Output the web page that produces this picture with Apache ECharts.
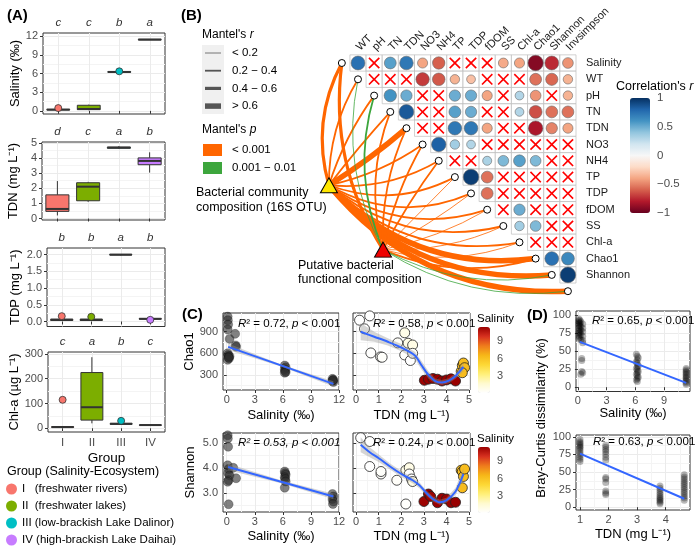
<!DOCTYPE html>
<html><head><meta charset="utf-8">
<script src="https://cdn.jsdelivr.net/npm/echarts@6/dist/echarts.min.js"></script>
<style>html,body{margin:0;padding:0;background:#fff}#c{width:700px;height:549px}</style>
</head><body><div id="c"></div>
<script>
const FONT = 'Liberation Sans, Arial, Helvetica, sans-serif';
// ================= Panel A data =================
const groups = ['I','II','III','IV'];
const groupLabels = ['I   (freshwater rivers)','II  (freshwater lakes)','III (low-brackish Lake Dalinor)','IV (high-brackish Lake Daihai)'];
const groupColors = ['#F8766D','#7CAE00','#00BFC4','#C77CFF'];
// [min, Q1, median, Q3, max]
const salinityBox = [[0.1,0.15,0.2,0.25,0.3],[0.1,0.2,0.3,0.9,1.0],[6.15,6.2,6.25,6.3,6.35],[11.4,11.42,11.45,11.48,11.5]];
const salinityOut = [[0.45],[],[6.35],[]];
const salinityLetters = ['c','c','b','a'];
const tdnBox = [[0.2,0.47,0.63,1.56,2.47],[1.1,1.17,2.1,2.36,2.42],[4.6,4.64,4.68,4.71,4.78],[3.03,3.55,3.8,4.0,4.37]];
const tdnOut = [[],[],[],[]];
const tdnLetters = ['d','c','a','b'];
const tdpBox = [[0.02,0.03,0.05,0.07,0.1],[0.02,0.03,0.05,0.07,0.1],[1.98,1.99,2.0,2.01,2.02],[0.06,0.07,0.08,0.09,0.1]];
const tdpOut = [[0.16],[0.14],[],[0.05]];
const tdpLetters = ['b','b','a','b'];
const chlBox = [[1,3,5,7,9],[20,33,85,225,287],[15,16,18,20,21],[11,12,13,14,15]];
const chlOut = [[115],[],[30],[]];
const chlLetters = ['c','a','b','c'];

// ================= Panel B data =================
const corrCols = ['WT','pH','TN','TDN','NO3','NH4','TP','TDP','fDOM','SS','Chl-a','Chao1','Shannon','Invsimpson'];
const corrRows = ['Salinity','WT','pH','TN','TDN','NO3','NH4','TP','TDP','fDOM','SS','Chl-a','Chao1','Shannon'];
// row i holds columns i..13 ; null = not significant (cross)
const corrValues = [
  [0.75, null, 0.55, 0.72, -0.4, -0.6, null, null, null, -0.38, -0.4, -0.92, -0.75, -0.45],
  [null, null, null, -0.7, -0.62, -0.35, -0.3, null, null, null, -0.55, -0.58, -0.35],
  [0.6, 0.5, null, null, 0.5, 0.5, -0.4, null, 0.3, -0.45, null, -0.35],
  [0.85, null, null, 0.55, 0.5, null, null, 0.3, -0.65, -0.55, -0.55],
  [null, null, 0.72, 0.72, -0.4, null, null, -0.82, -0.5, -0.4],
  [0.82, 0.35, 0.3, null, null, null, null, null, null],
  [null, null, 0.32, 0.45, 0.55, 0.45, null, null],
  [0.95, -0.55, null, null, null, null, null],
  [-0.55, null, null, null, null, null],
  [null, 0.5, null, null, null],
  [0.35, 0.45, null, null],
  [null, null, null],
  [0.75, 0.65],
  [0.95]
];
const mantelVars = ['Salinity','WT','pH','TN','TDN','NO3','NH4','TP','TDP','fDOM','SS','Chl-a','Chao1','Shannon','Invsimpson'];
const mantel16S_r = [0.5,0.25,0.3,0.3,0.7,0.3,0.25,0.3,0.3,0.3,0.3,0.3,0.65,0.65,0.65];
const mantel16S_p = ['<0.001','<0.001','<0.001','<0.001','<0.001','<0.001','<0.001','<0.001','<0.001','<0.001','<0.001','<0.001','<0.001','<0.001','<0.001'];
const mantelFun_r = [0.5,0.1,0.25,0.3,0.3,0.3,0.25,0.15,0.15,0.15,0.15,0.15,0.3,0.1,0.1];
const mantelFun_p = ['<0.001','0.001-0.01','0.001-0.01','<0.001','<0.001','<0.001','<0.001','<0.001','<0.001','<0.001','<0.001','<0.001','<0.001','0.001-0.01','0.001-0.01'];

// ================= Panel C data =================
const chaoSal = [[0.1,1110],[0.12,1060],[0.15,1000],[0.1,930],[0.3,800],[0.9,870],[0.95,710],[1.0,690],[0.1,600],[0.15,575],[0.2,555],[0.25,530],[0.1,510],[0.3,560],[0.2,540],
  [6.2,430],[6.3,405],[6.2,380],[6.25,355],[6.3,340],[6.2,330],
  [11.3,245],[11.4,230],[11.3,215],[11.4,200],[11.35,225]];
const chaoSalFitX = [0.15,5.8,11.4], chaoSalFitY = [690,432,175], chaoSalLo = [645,418,140], chaoSalHi = [735,446,210];
// [TDN, Chao1, Salinity]
const chaoTdn = [[0.15,1060,0.1],[0.6,1120,0.1],[0.37,940,0.15],[0.65,605,0.15],[1.08,550,0.2],[1.15,545,0.25],[1.84,745,0.3],[2.15,885,0.9],[2.3,740,0.95],[2.5,715,1.0],[2.15,577,0.2],[2.4,500,0.1],[2.5,600,0.3],
  [3.02,225,11.3],[3.2,240,11.4],[3.4,250,11.3],[3.6,240,11.4],[3.8,215,11.35],[4.0,230,11.4],[4.2,245,11.3],[4.4,215,11.4],
  [4.65,350,6.2],[4.7,430,6.3],[4.75,465,6.2],[4.8,400,6.25],[4.7,330,6.3]];
const chaoTdnFitX = [0.2,0.8,1.4,2.0,2.6,2.9,3.2,3.5,3.8,4.1,4.4,4.75];
const chaoTdnFitY = [900,830,760,680,570,430,300,215,195,220,285,410];
const chaoTdnLo = [780,760,710,630,520,370,250,180,160,185,245,350];
const chaoTdnHi = [1020,900,810,730,620,490,350,250,230,255,325,470];
const shSal = [[0.1,5.3],[0.12,5.17],[0.15,4.84],[0.1,4.1],[0.2,3.95],[0.15,3.78],[0.3,3.7],[0.2,3.5],[0.1,3.44],[0.2,2.54],[0.7,4.0],[1.0,3.58],
  [6.2,3.85],[6.25,3.78],[6.3,3.72],[6.2,3.62],[6.25,3.55],[6.3,3.45],[6.2,3.2],
  [11.3,2.95],[11.4,2.85],[11.3,2.75],[11.4,2.65],[11.35,2.55]];
const shSalFitX = [0.15,5.8,11.4], shSalFitY = [4.03,3.44,2.85], shSalLo = [3.9,3.38,2.74], shSalHi = [4.16,3.5,2.96];
const shTdn = [[0.2,5.2,0.1],[0.6,5.05,0.15],[0.6,4.05,0.1],[1.1,3.75,0.2],[1.1,3.85,0.25],[1.8,3.5,0.3],[2.2,2.55,0.2],[2.2,3.9,0.9],[2.35,4.0,0.95],[2.35,3.75,0.2],[2.45,3.55,0.1],[2.5,3.45,1.0],
  [3.0,2.65,11.3],[3.2,2.95,11.4],[3.3,2.85,11.3],[3.6,2.6,11.4],[3.8,2.78,11.35],[4.0,2.75,11.4],[4.2,2.6,11.3],[4.4,2.62,11.4],
  [4.65,3.9,6.2],[4.7,3.85,6.3],[4.75,3.65,6.2],[4.8,3.95,6.25],[4.7,3.2,6.3]];
const shTdnFitX = [0.2,0.6,1.0,1.5,2.0,2.5,2.8,3.1,3.4,3.7,4.0,4.4,4.75];
const shTdnFitY = [4.92,4.62,4.38,4.05,3.75,3.5,3.3,3.0,2.75,2.62,2.7,3.05,3.75];
const shTdnLo = [4.62,4.42,4.23,3.93,3.63,3.38,3.18,2.9,2.65,2.52,2.6,2.9,3.5];
const shTdnHi = [5.22,4.82,4.53,4.17,3.87,3.62,3.42,3.1,2.85,2.72,2.8,3.2,4.0];

// ================= Panel D data =================
const braySal = [[0.1,95],[0.1,92],[0.1,90],[0.1,88],[0.1,85],[0.1,82],[0.1,78],[0.1,75],[0.1,72],[0.1,68],[0.2,93],[0.2,89],[0.2,86],[0.2,80],[0.2,76],[0.2,70],[0.3,91],[0.3,84],[0.3,79],[0.3,73],[0.3,66],[0.5,88],[0.5,82],[0.5,77],[0.5,71],[0.5,65],[0.5,62],
  [0.4,40],[0.4,37],[0.4,22],[0.5,20],[0.3,18],
  [6.1,46],[6.2,43],[6.3,41],[6.2,38],[6.1,35],[6.2,33],[6.3,30],[6.2,28],[6.1,26],[6.2,24],[6.3,22],[6.2,20],[6.1,18],[6.2,16],[6.3,14],[6.2,12],[6.1,10],[6.2,8],
  [11.3,26],[11.3,24],[11.3,22],[11.3,20],[11.3,18],[11.3,16],[11.3,14],[11.3,12],[11.3,10],[11.3,8],[11.3,6],[11.3,4]];
const braySalFitX = [0.2,11.3], braySalFitY = [63,6];
const brayTdn = [[1.0,96],[1.0,93],[1.0,91],[1.0,89],[1.0,87],[1.0,85],[1.0,83],[1.0,80],[1.0,77],[1.0,74],[1.0,71],[1.0,68],[1.0,65],
  [1.9,88],[1.9,85],[1.9,82],[1.9,79],[1.9,75],[1.9,71],[1.9,67],[1.9,42],[1.9,40],[1.9,35],[1.9,23],[1.9,20],[1.9,18],
  [3.8,30],[3.8,27],[3.8,24],[3.8,21],[3.8,18],[3.8,15],[3.8,13],[3.8,11],[3.8,9],[3.8,7],[3.8,5],
  [4.65,46],[4.65,43],[4.65,40],[4.65,37],[4.65,34],[4.65,31],[4.65,28],[4.65,25],[4.65,22],[4.65,19],[4.65,16],[4.65,13],[4.65,10]];
const brayTdnFitX = [1.0,4.65], brayTdnFitY = [76,12];

// ================= helpers =================
const axisTextColor = '#4d4d4d';
const grids = [], xAxes = [], yAxes = [], series = [];
function addGrid(r, show = true) {
  grids.push(Object.assign({show: show, borderColor:'#333', borderWidth:1, backgroundColor:'#fff', containLabel:false}, r));
  return grids.length - 1;
}
function minorsOf(ticks, min, max) {
  const step = ticks[1] - ticks[0];
  const out = [];
  for (let v = ticks[0] - step / 2; v <= max; v += step) if (v >= min) out.push(+v.toFixed(6));
  return out;
}
function minorAxis(g, min, max, ticks, pos) {
  const m = minorsOf(ticks, min, max);
  return {type:'value', gridIndex:g, min:min, max:max, position:pos, z:0,
    axisLine:{show:false}, axisTick:{show:false, customValues:m}, axisLabel:{show:false, customValues:m},
    splitLine:{show:true, lineStyle:{color:'#f4f4f4', width:1}}};
}
function valAxis(g, min, max, ticks, o = {}) {
  return {
    type:'value', gridIndex:g, min:min, max:max,
    axisLine:{show:false},
    axisTick:{show:o.ticks !== false, length:3, lineStyle:{color:'#333'}, customValues:ticks},
    axisLabel:{show:o.labels !== false, customValues:ticks, color:axisTextColor, fontSize:11, fontFamily:FONT,
      margin:(o.margin == null ? 5 : o.margin), formatter:o.fmt || (v => String(v))},
    splitLine:{show:true, lineStyle:{color:'#ebebeb', width:1}},
    name:o.name || '', nameLocation:'middle', nameGap:o.gap || 20, nameRotate:o.rot,
    nameTextStyle:{fontSize:13, color:'#000', fontFamily:FONT}
  };
}
function boxRender(params, api) {
  const x = api.value(0);
  const c = i => api.coord([x, api.value(i)]);
  const pMin = c(1), pQ1 = c(2), pMed = c(3), pQ3 = c(4), pMax = c(5);
  const bw = api.size([1, 0])[0] * 0.75;
  const cx = pMed[0];
  return {type:'group', children:[
    {type:'line', shape:{x1:cx, y1:pMax[1], x2:cx, y2:pQ3[1]}, style:{stroke:'#333', lineWidth:1}},
    {type:'line', shape:{x1:cx, y1:pQ1[1], x2:cx, y2:pMin[1]}, style:{stroke:'#333', lineWidth:1}},
    {type:'rect', shape:{x:cx - bw/2, y:pQ3[1], width:bw, height:Math.max(pQ1[1] - pQ3[1], 0.6)}, style:{fill:groupColors[x], stroke:'#333', lineWidth:1}},
    {type:'line', shape:{x1:cx - bw/2, y1:pMed[1], x2:cx + bw/2, y2:pMed[1]}, style:{stroke:'#333', lineWidth:2}}
  ]};
}
const zip = (xs, ys) => xs.map((x, i) => [x, ys[i]]);

// ================= Panel A =================
const panelsA = [
  {title:'Salinity (‰)', box:salinityBox, out:salinityOut, letters:salinityLetters, min:-0.5, max:12.5, ticks:[0,3,6,9,12], gap:21},
  {title:'TDN (mg L⁻¹)', box:tdnBox, out:tdnOut, letters:tdnLetters, min:-0.1, max:5.05, ticks:[0,1,2,3,4,5], gap:22},
  {title:'TDP (mg L⁻¹)', box:tdpBox, out:tdpOut, letters:tdpLetters, min:-0.15, max:2.2, ticks:[0,0.5,1,1.5,2], gap:25, fmt:v => v.toFixed(1)},
  {title:'Chl-a (µg L⁻¹)', box:chlBox, out:chlOut, letters:chlLetters, min:-15, max:308, ticks:[0,100,200,300], gap:26}
];
const rectsA = [
  {left:43, top:33, width:122, height:81},
  {left:42, top:142, width:123, height:78},
  {left:47, top:248, width:118, height:78.5},
  {left:48, top:352, width:117, height:80}
];
panelsA.forEach((p, k) => {
  const g = addGrid(rectsA[k]);
  const xi = xAxes.length;
  xAxes.push({type:'category', gridIndex:g, data:groups, position:'bottom', boundaryGap:true,
    axisLine:{show:false}, axisTick:{show:true, alignWithLabel:true, length:3, lineStyle:{color:'#333'}},
    axisLabel:{show:k === 3, color:axisTextColor, fontSize:11.5, margin:5},
    splitLine:{show:true, alignWithLabel:true, lineStyle:{color:'#ebebeb'}},
    name:k === 3 ? 'Group' : '', nameLocation:'middle', nameGap:19, nameTextStyle:{fontSize:13.5, color:'#000'}});
  xAxes.push({type:'category', gridIndex:g, data:groups, position:'top',
    axisLine:{show:false}, axisTick:{show:false}, splitLine:{show:false},
    axisLabel:{fontStyle:'italic', color:'#333', fontSize:11.5, margin:4, formatter:(v, idx) => p.letters[idx]}});
  const yi = yAxes.length;
  yAxes.push(valAxis(g, p.min, p.max, p.ticks, {fmt:p.fmt, name:p.title, gap:p.gap, rot:90}));
  yAxes.push(minorAxis(g, p.min, p.max, p.ticks, 'right'));
  series.push({type:'custom', xAxisIndex:xi, yAxisIndex:yi, renderItem:boxRender, encode:{x:0, y:[1,2,3,4,5]},
    data:p.box.map((b, i) => [i].concat(b)), z:3, silent:true});
  groups.forEach((gn, i) => {
    series.push({type:'scatter', name:groupLabels[i], xAxisIndex:xi, yAxisIndex:yi, symbolSize:7,
      itemStyle:{color:groupColors[i], borderColor:'#333', borderWidth:0.8, opacity:1},
      data:p.out[i].map(v => [i, v]), z:4});
  });
});

// ================= Panel B =================
const gB = addGrid({left:293.4, top:54.85, width:282.6, height:252.65}, false);
const xB = xAxes.length;
xAxes.push({type:'value', gridIndex:gB, min:-4, max:13.5, position:'top',
  axisLine:{show:false}, axisTick:{show:false}, splitLine:{show:false},
  axisLabel:{customValues:corrCols.map((c, i) => i), formatter:v => corrCols[Math.round(v)] || '', rotate:45, margin:6, fontSize:11, color:'#1a1a1a'}});
const yB = yAxes.length;
yAxes.push({type:'value', gridIndex:gB, min:-0.5, max:15, inverse:true, position:'right',
  axisLine:{show:false}, axisTick:{show:false}, splitLine:{show:false},
  axisLabel:{customValues:corrRows.map((c, i) => i), formatter:v => corrRows[Math.round(v)] || '', margin:10, fontSize:11, color:'#1a1a1a'}});
const cellData = [], circData = [], crossData = [];
corrValues.forEach((row, r) => row.forEach((v, j) => {
  const c = r + j;
  cellData.push([c, r]);
  if (v === null) crossData.push([c, r]); else circData.push([c, r, v]);
}));
series.push({type:'scatter', xAxisIndex:xB, yAxisIndex:yB, symbol:'rect', symbolSize:[16.15, 16.3],
  itemStyle:{color:'#fff', borderColor:'#b8b8b8', borderWidth:0.8}, data:cellData, silent:true, z:2});
const circIdx = series.length;
series.push({type:'scatter', xAxisIndex:xB, yAxisIndex:yB, symbol:'circle',
  symbolSize:d => 16 * Math.sqrt(Math.abs(d[2])),
  itemStyle:{borderColor:'#666', borderWidth:0.6, opacity:1}, data:circData, silent:true, z:3});
series.push({type:'scatter', xAxisIndex:xB, yAxisIndex:yB,
  symbol:'path://M1,0L5,4L9,0L10,1L6,5L10,9L9,10L5,6L1,10L0,9L4,5L0,1Z', symbolSize:11.5,
  itemStyle:{color:'#ff0000', opacity:1}, data:crossData, silent:true, z:4});
// network
const triLayout = {'16S':[-1.8, 7.5], 'fun':[1.55, 11.45]};
const triColors = {'16S':'#FFE600', 'fun':'#EE0000'};
const pColor = {'<0.001':'#FF6600', '0.001-0.01':'#3DA63D'};
const rWidth = r => r < 0.2 ? 0.8 : r < 0.4 ? 1.8 : r < 0.6 ? 3.2 : 5.5;
const linesData = [];
[['16S', mantel16S_r, mantel16S_p, 0.25], ['fun', mantelFun_r, mantelFun_p, 0.18]].forEach(([src, rs, ps, k]) => {
  const s = triLayout[src];
  mantelVars.forEach((v, i) => {
    const t = [i - 1, i];
    const dx = t[0] - s[0], dy = t[1] - s[1];
    const curv = k * (-dy - dx) / (Math.abs(dx) + Math.abs(dy));
    linesData.push({coords:[s, t], lineStyle:{width:rWidth(rs[i]), color:pColor[ps[i]], curveness:curv, opacity:1}});
  });
});
linesData.sort((a, b) => b.lineStyle.width - a.lineStyle.width);
series.push({type:'lines', coordinateSystem:'cartesian2d', xAxisIndex:xB, yAxisIndex:yB, data:linesData, silent:true, z:2,
  lineStyle:{opacity:1}});
series.push({type:'scatter', xAxisIndex:xB, yAxisIndex:yB, symbol:'circle', symbolSize:7,
  itemStyle:{color:'#fff', borderColor:'#000', borderWidth:1, opacity:1},
  data:mantelVars.map((v, i) => [i - 1, i]), silent:true, z:5});
series.push({type:'scatter', xAxisIndex:xB, yAxisIndex:yB, symbol:'triangle', symbolSize:[17, 15],
  itemStyle:{borderColor:'#000', borderWidth:1, opacity:1},
  data:Object.keys(triLayout).map(k => ({value:triLayout[k], itemStyle:{color:triColors[k]}})), silent:true, z:6});

// ================= Panel C & D =================
function scatterPanel(rect, xr, yr, xt, yt, o) {
  const g = addGrid(rect);
  const xi = xAxes.length, yi = yAxes.length;
  xAxes.push(valAxis(g, xr[0], xr[1], xt, {name:o.xname, gap:o.xgap, margin:4, fmt:o.xfmt}));
  yAxes.push(valAxis(g, yr[0], yr[1], yt, {name:o.yname, gap:o.ygap, rot:90, labels:o.ylabels, fmt:o.yfmt}));
  xAxes.push(minorAxis(g, xr[0], xr[1], xt, 'top'));
  yAxes.push(minorAxis(g, yr[0], yr[1], yt, 'right'));
  return [xi, yi];
}
function addFit(ax, fx, fy, lo, hi) {
  if (lo) {
    series.push({type:'custom', xAxisIndex:ax[0], yAxisIndex:ax[1], silent:true, z:3,
      data:fx.map((x, i) => [x, lo[i], hi[i]]), encode:{x:0, y:[1, 2]},
      renderItem:(params, api) => {
        if (params.dataIndex !== 0) return null;
        const pts = [];
        for (let i = 0; i < fx.length; i++) pts.push(api.coord([fx[i], hi[i]]));
        for (let i = fx.length - 1; i >= 0; i--) pts.push(api.coord([fx[i], lo[i]]));
        return {type:'polygon', shape:{points:pts}, style:{fill:'rgba(150,150,150,0.4)'}};
      }});
  }
  series.push({type:'line', xAxisIndex:ax[0], yAxisIndex:ax[1], symbol:'none', smooth:fx.length > 3 ? 0.3 : false,
    lineStyle:{color:'#3366FF', width:2}, data:zip(fx, fy), silent:true, z:4});
}
const salName = 'Salinity (‰)', tdnName = 'TDN (mg L⁻¹)';
const cTL = scatterPanel({left:223, top:313, width:116, height:77}, [-0.4, 12], [90, 1160], [0,3,6,9,12], [300,600,900],
  {xname:salName, xgap:19, yname:'Chao1', ygap:26});
const cTR = scatterPanel({left:353, top:313, width:117, height:77}, [-0.14, 5.04], [90, 1160], [0,1,2,3,4,5], [300,600,900],
  {xname:tdnName, xgap:19, ylabels:false});
const cBL = scatterPanel({left:223, top:433, width:116, height:79}, [-0.4, 12], [2.23, 5.39], [0,3,6,9,12], [3,4,5],
  {xname:salName, xgap:18, yname:'Shannon', ygap:26, yfmt:v => v.toFixed(1)});
const cBR = scatterPanel({left:353, top:433, width:117, height:79}, [-0.14, 5.04], [2.23, 5.39], [0,1,2,3,4,5], [3,4,5],
  {xname:tdnName, xgap:18, ylabels:false});
const dT = scatterPanel({left:576, top:311, width:114, height:80.5}, [-0.2, 11.7], [-6, 106], [0,3,6,9], [0,25,50,75,100],
  {xname:salName, xgap:15});
const dB = scatterPanel({left:576, top:435, width:114, height:75}, [0.86, 4.85], [-4, 102.5], [1,2,3,4], [0,25,50,75,100],
  {xname:tdnName, xgap:18});

const grayPt = {color:'rgba(45,45,45,0.75)', borderColor:'rgba(0,0,0,0.6)', borderWidth:0.5};
series.push({type:'scatter', xAxisIndex:cTL[0], yAxisIndex:cTL[1], symbolSize:9, itemStyle:grayPt, data:chaoSal, z:2});
addFit(cTL, chaoSalFitX, chaoSalFitY, chaoSalLo, chaoSalHi);
const trIdx = series.length;
series.push({type:'scatter', xAxisIndex:cTR[0], yAxisIndex:cTR[1], symbolSize:10, itemStyle:{borderColor:'#222', borderWidth:0.8, opacity:1}, data:chaoTdn, z:2});
addFit(cTR, chaoTdnFitX, chaoTdnFitY, chaoTdnLo, chaoTdnHi);
series.push({type:'scatter', xAxisIndex:cBL[0], yAxisIndex:cBL[1], symbolSize:9, itemStyle:grayPt, data:shSal, z:2});
addFit(cBL, shSalFitX, shSalFitY, shSalLo, shSalHi);
const brIdx = series.length;
series.push({type:'scatter', xAxisIndex:cBR[0], yAxisIndex:cBR[1], symbolSize:10, itemStyle:{borderColor:'#222', borderWidth:0.8, opacity:1}, data:shTdn, z:2});
addFit(cBR, shTdnFitX, shTdnFitY, shTdnLo, shTdnHi);
const blackPt = {color:'rgba(0,0,0,0.35)'};
series.push({type:'scatter', xAxisIndex:dT[0], yAxisIndex:dT[1], symbolSize:7, itemStyle:blackPt, data:braySal, z:2});
addFit(dT, braySalFitX, braySalFitY, null, null);
series.push({type:'scatter', xAxisIndex:dB[0], yAxisIndex:dB[1], symbolSize:7, itemStyle:blackPt, data:brayTdn, z:2});
addFit(dB, brayTdnFitX, brayTdnFitY, null, null);

// ================= visual maps =================
const rdbu = ['#67001F','#B2182B','#D6604D','#F4A582','#FDDBC7','#F7F7F7','#D1E5F0','#92C5DE','#4393C3','#2166AC','#053061'];
const salCols = ['#ffffff','#fffad0','#fff07a','#fdd835','#f7b718','#ef7b1c','#d7301f','#990000'];
const cbB = {left:630, top:98, w:20, h:115};
const cbC1 = {left:478, top:327, w:12, h:66};
const cbC2 = {left:478, top:447, w:12, h:66};
const salMin = 0.1, salMax = 11.4;
const visualMap = [
  {type:'continuous', seriesIndex:circIdx, dimension:2, min:-1, max:1, inRange:{color:rdbu}, left:cbB.left, top:cbB.top,
    itemWidth:cbB.w, itemHeight:cbB.h, calculable:false, padding:0, show:true, hoverLink:false},
  {type:'continuous', seriesIndex:trIdx, dimension:2, min:salMin, max:salMax, inRange:{color:salCols}, left:cbC1.left, top:cbC1.top,
    itemWidth:cbC1.w, itemHeight:cbC1.h, calculable:false, padding:0, show:true, hoverLink:false},
  {type:'continuous', seriesIndex:brIdx, dimension:2, min:salMin, max:salMax, inRange:{color:salCols}, left:cbC2.left, top:cbC2.top,
    itemWidth:cbC2.w, itemHeight:cbC2.h, calculable:false, padding:0, show:true, hoverLink:false}
];

// ================= graphic (titles, legends, annotations) =================
const G = [];
function T(text, x, y, o = {}) {
  G.push({type:'text', x:x, y:y, rotation:o.rot || 0, z:100, silent:true,
    style:{text:text, fill:o.fill || '#000', fontSize:o.size || 12, fontFamily:FONT, fontWeight:o.bold ? 'bold' : 'normal',
      fontStyle:o.italic ? 'italic' : 'normal', align:o.align || 'left', verticalAlign:'middle',
      rich:{i:{fontStyle:'italic', fontSize:o.size || 12, fontFamily:FONT, fill:o.fill || '#000'}}}});
}
T('(A)', 7, 16, {size:15, bold:true});
T('(B)', 181, 16, {size:15, bold:true});
T('(C)', 182, 315, {size:15, bold:true});
T('(D)', 527, 316, {size:15, bold:true});
T('Group (Salinity-Ecosystem)', 7, 472, {size:12.5});
T("Mantel's {i|r}", 202, 35, {size:12});
G.push({type:'rect', shape:{x:202, y:45, width:22, height:69}, style:{fill:'#f0f0f0'}, z:90, silent:true});
const rLegend = [['< 0.2', 0.1], ['0.2 − 0.4', 0.3], ['0.4 − 0.6', 0.5], ['> 0.6', 0.7]];
rLegend.forEach(([lab, r], i) => {
  const y = 53 + i * 17.7;
  G.push({type:'line', shape:{x1:205, y1:y, x2:221, y2:y}, style:{stroke:'#555', lineWidth:rWidth(r)}, z:95, silent:true});
  T(lab, 232, y, {size:11.5});
});
T("Mantel's {i|p}", 202, 130, {size:12});
[['< 0.001', '<0.001'], ['0.001 − 0.01', '0.001-0.01']].forEach(([lab, key], i) => {
  const y = 150 + i * 18;
  G.push({type:'rect', shape:{x:203, y:y - 6, width:19, height:12}, style:{fill:pColor[key]}, z:95, silent:true});
  T(lab, 232, y, {size:11.5});
});
T('Bacterial community', 196, 193, {size:12.5});
T('composition (16S OTU)', 196, 208, {size:12.5});
T('Putative bacterial', 298, 266, {size:12.5});
T('functional composition', 298, 280, {size:12.5});
T("Correlation's {i|r}", 616, 87, {size:12.5});
[1, 0.5, 0, -0.5, -1].forEach(v => {
  const y = cbB.top + (1 - v) / 2 * cbB.h;
  T(String(v).replace('-', '−'), 657, y, {size:11.5, fill:'#4d4d4d'});
});
[[cbC1, 319], [cbC2, 439]].forEach(([cb, ty]) => {
  T('Salinity', 477, ty, {size:11.5});
  [9, 6, 3].forEach(v => {
    const y = cb.top + (salMax - v) / (salMax - salMin) * cb.h;
    T(String(v), 497, y, {size:11, fill:'#4d4d4d'});
  });
});
T('{i|R}² = 0.72, {i|p} < 0.001', 238, 324, {size:11.5});
T('{i|R}² = 0.58, {i|p} < 0.001', 373, 324, {size:11.5});
T('R² = 0.53, p < 0.001', 238, 443, {size:11.5, italic:true});
T('{i|R}² = 0.24, {i|p} < 0.001', 373, 443, {size:11.5});
T('{i|R}² = 0.65, {i|p} < 0.001', 592, 321, {size:11.5});
T('{i|R}² = 0.63, {i|p} < 0.001', 593, 442, {size:11.5});
T('Bray-Curtis dissimilarity (%)', 541, 418, {size:13, rot:Math.PI / 2, align:'center'});

const option = {
  animation:false,
  textStyle:{fontFamily:FONT},
  grid:grids, xAxis:xAxes, yAxis:yAxes, series:series, visualMap:visualMap, graphic:G,
  legend:{orient:'vertical', left:6, top:483, padding:0, height:66, itemGap:5, itemWidth:11, itemHeight:11, icon:'circle',
    data:groupLabels, selectedMode:false, itemStyle:{borderWidth:0},
    textStyle:{fontSize:11.5, color:'#000', fontFamily:FONT}}
};
const chart = echarts.init(document.getElementById('c'), null, {renderer:'canvas'});
chart.setOption(option);
</script></body></html>
